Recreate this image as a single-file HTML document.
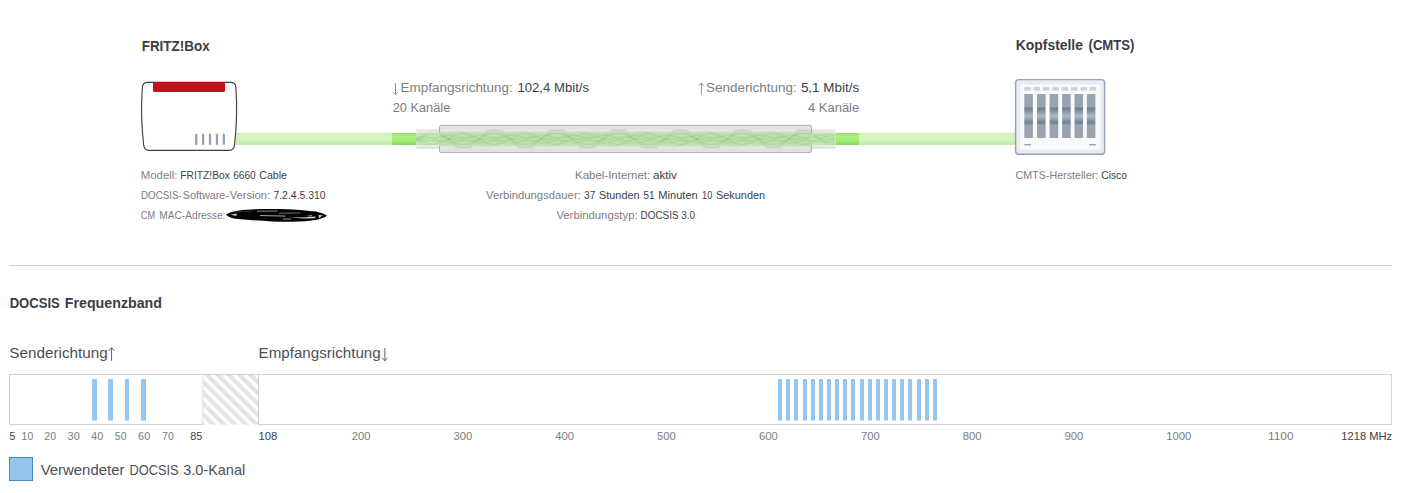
<!DOCTYPE html>
<html lang="de">
<head>
<meta charset="utf-8">
<title>FRITZ!Box Kabel-Informationen</title>
<style>
html,body{margin:0;padding:0;background:#ffffff;}
body{width:1405px;height:493px;overflow:hidden;font-family:"Liberation Sans",sans-serif;}
svg{display:block;position:absolute;left:0;top:0;}
svg text{font-family:"Liberation Sans",sans-serif;white-space:pre;}
</style>
</head>
<body>
<svg width="1405" height="493" viewBox="0 0 1405 493">
<defs>
<linearGradient id="gLight" x1="0" y1="0" x2="0" y2="1">
<stop offset="0" stop-color="#c9eeb4"/><stop offset="0.2" stop-color="#d5f7c0"/><stop offset="0.6" stop-color="#d2f4bc"/><stop offset="1" stop-color="#c3e7ae"/>
</linearGradient>
<linearGradient id="gBright" x1="0" y1="0" x2="0" y2="1">
<stop offset="0" stop-color="#93dd6c"/><stop offset="0.3" stop-color="#a9f57f"/><stop offset="0.6" stop-color="#a4ee7a"/><stop offset="1" stop-color="#8cd666"/>
</linearGradient>
<linearGradient id="gTube" x1="0" y1="0" x2="0" y2="1">
<stop offset="0" stop-color="#e4e4e4"/><stop offset="0.5" stop-color="#dcdcdc"/><stop offset="1" stop-color="#e2e2e2"/>
</linearGradient>
<linearGradient id="gSlot" x1="0" y1="0" x2="0" y2="1">
<stop offset="0" stop-color="#99a4b0"/><stop offset="0.285" stop-color="#99a4b0"/>
<stop offset="0.32" stop-color="#72808e"/><stop offset="0.36" stop-color="#7b8997"/><stop offset="0.50" stop-color="#adbbc9"/>
<stop offset="0.62" stop-color="#7f8d9b"/><stop offset="0.66" stop-color="#72808e"/><stop offset="0.70" stop-color="#99a4b0"/><stop offset="1" stop-color="#99a4b0"/>
</linearGradient>
<pattern id="hatch" width="7.66" height="7.66" patternUnits="userSpaceOnUse" patternTransform="translate(204.1 375) rotate(-45)">
<rect x="0" y="0" width="7.66" height="7.66" fill="#ffffff"/><rect x="0" y="0" width="4.25" height="7.66" fill="#e4e4e4"/>
</pattern>
<clipPath id="clipTube"><rect x="416" y="129.3" width="419.8" height="19.4"/></clipPath>
</defs>

<text x="141.7" y="50.8" font-size="15.12" fill="#3a3d46" font-weight="bold" textLength="68.0" lengthAdjust="spacingAndGlyphs">FRITZ!Box</text>
<text x="1015.7" y="50.3" font-size="15.12" fill="#3a3d46" font-weight="bold" textLength="67.3" lengthAdjust="spacingAndGlyphs">Kopfstelle</text>
<text x="1088.5" y="50.3" font-size="15.12" fill="#3a3d46" font-weight="bold" textLength="46.0" lengthAdjust="spacingAndGlyphs">(CMTS)</text>
<rect x="235.5" y="133" width="781" height="12" fill="url(#gLight)"/>
<rect x="392" y="133" width="25" height="12" rx="1.5" fill="url(#gBright)"/>
<rect x="834.5" y="133" width="24.5" height="12" rx="1.5" fill="url(#gBright)"/>
<rect x="416" y="129.3" width="419.8" height="19.4" rx="1" fill="#f3f3f4"/>
<rect x="416" y="129.3" width="419.8" height="1.2" fill="#e6e6e8"/>
<rect x="416" y="147.5" width="419.8" height="1.2" fill="#e6e6e8"/>
<rect x="417" y="131.0" width="22.5" height="0.7" fill="#c9c9cc" fill-opacity="0.5"/>
<rect x="812" y="131.0" width="23" height="0.7" fill="#c9c9cc" fill-opacity="0.5"/>
<rect x="417" y="132.2" width="22.5" height="0.7" fill="#c9c9cc" fill-opacity="0.35"/>
<rect x="812" y="132.2" width="23" height="0.7" fill="#c9c9cc" fill-opacity="0.35"/>
<rect x="417" y="145.9" width="22.5" height="0.7" fill="#c9c9cc" fill-opacity="0.35"/>
<rect x="812" y="145.9" width="23" height="0.7" fill="#c9c9cc" fill-opacity="0.35"/>
<rect x="417" y="147.1" width="22.5" height="0.7" fill="#c9c9cc" fill-opacity="0.5"/>
<rect x="812" y="147.1" width="23" height="0.7" fill="#c9c9cc" fill-opacity="0.5"/>
<rect x="439.5" y="125.3" width="372" height="27.3" rx="1.8" fill="url(#gTube)" stroke="#b0b0b0" stroke-width="1"/>
<rect x="440" y="129.3" width="371" height="19.4" fill="#ffffff" fill-opacity="0.22"/>
<rect x="416" y="133" width="419.8" height="12.2" fill="#c3e8b0"/>
<rect x="440" y="132.8" width="371" height="12.6" fill="#bce2a8"/>
<rect x="440" y="131.6" width="371" height="1.4" fill="#c6dcbc" fill-opacity="0.8"/>
<rect x="440" y="145.2" width="371" height="1.4" fill="#c6dcbc" fill-opacity="0.8"/>
<g fill="none" stroke-linecap="round" stroke-linejoin="round" clip-path="url(#clipTube)">
<path d="M416.0 139.49 L418.0 138.47 L420.0 137.29 L422.0 136.01 L424.0 134.70 L426.0 133.43 L428.0 132.28 L430.0 131.33 L432.0 130.65 L434.0 130.30 L436.0 130.75 L438.0 131.53 L440.0 132.62 L442.0 133.97 L444.0 135.53 L446.0 137.23 L448.0 139.00 L450.0 140.77 L452.0 142.47 L454.0 144.03 L456.0 145.38 L458.0 146.47 L460.0 147.25 L462.0 147.70 L464.0 147.79 L466.0 147.52 L468.0 146.90 L470.0 145.96 L472.0 144.73 L474.0 143.27 L476.0 141.63 L478.0 139.89 L480.0 138.11 L482.0 136.37 L484.0 134.73 L486.0 133.27 L488.0 132.04 L490.0 131.10 L492.0 130.48 L494.0 130.21 L496.0 130.30 L498.0 130.75 L500.0 131.53 L502.0 132.62 L504.0 133.97 L506.0 135.53 L508.0 137.23 L510.0 139.00 L512.0 140.77 L514.0 142.47 L516.0 144.03 L518.0 145.38 L520.0 146.47 L522.0 147.25 L524.0 147.70 L526.0 147.79 L528.0 147.52 L530.0 146.90 L532.0 145.96 L534.0 144.73 L536.0 143.27 L538.0 141.63 L540.0 139.89 L542.0 138.11 L544.0 136.37 L546.0 134.73 L548.0 133.27 L550.0 132.04 L552.0 131.10 L554.0 130.48 L556.0 130.21 L558.0 130.30 L560.0 130.75 L562.0 131.53 L564.0 132.62 L566.0 133.97 L568.0 135.53 L570.0 137.23 L572.0 139.00 L574.0 140.77 L576.0 142.47 L578.0 144.03 L580.0 145.38 L582.0 146.47 L584.0 147.25 L586.0 147.70 L588.0 147.79 L590.0 147.52 L592.0 146.90 L594.0 145.96 L596.0 144.73 L598.0 143.27 L600.0 141.63 L602.0 139.89 L604.0 138.11 L606.0 136.37 L608.0 134.73 L610.0 133.27 L612.0 132.04 L614.0 131.10 L616.0 130.48 L618.0 130.21 L620.0 130.30 L622.0 130.75 L624.0 131.53 L626.0 132.62 L628.0 133.97 L630.0 135.53 L632.0 137.23 L634.0 139.00 L636.0 140.77 L638.0 142.47 L640.0 144.03 L642.0 145.38 L644.0 146.47 L646.0 147.25 L648.0 147.70 L650.0 147.79 L652.0 147.52 L654.0 146.90 L656.0 145.96 L658.0 144.73 L660.0 143.27 L662.0 141.63 L664.0 139.89 L666.0 138.11 L668.0 136.37 L670.0 134.73 L672.0 133.27 L674.0 132.04 L676.0 131.10 L678.0 130.48 L680.0 130.21 L682.0 130.30 L684.0 130.75 L686.0 131.53 L688.0 132.62 L690.0 133.97 L692.0 135.53 L694.0 137.23 L696.0 139.00 L698.0 140.77 L700.0 142.47 L702.0 144.03 L704.0 145.38 L706.0 146.47 L708.0 147.25 L710.0 147.70 L712.0 147.79 L714.0 147.52 L716.0 146.90 L718.0 145.96 L720.0 144.73 L722.0 143.27 L724.0 141.63 L726.0 139.89 L728.0 138.11 L730.0 136.37 L732.0 134.73 L734.0 133.27 L736.0 132.04 L738.0 131.10 L740.0 130.48 L742.0 130.21 L744.0 130.30 L746.0 130.75 L748.0 131.53 L750.0 132.62 L752.0 133.97 L754.0 135.53 L756.0 137.23 L758.0 139.00 L760.0 140.77 L762.0 142.47 L764.0 144.03 L766.0 145.38 L768.0 146.47 L770.0 147.25 L772.0 147.70 L774.0 147.79 L776.0 147.52 L778.0 146.90 L780.0 145.96 L782.0 144.73 L784.0 143.27 L786.0 141.63 L788.0 139.89 L790.0 138.11 L792.0 136.37 L794.0 134.73 L796.0 133.27 L798.0 132.04 L800.0 131.10 L802.0 130.48 L804.0 130.21 L806.0 130.30 L808.0 130.75 L810.0 131.53 L812.0 132.62 L814.0 133.97 L816.0 135.53 L818.0 137.24 L820.0 139.00 L822.0 140.59 L824.0 141.93 L826.0 143.00 L828.0 143.75 L830.0 144.19 L832.0 144.32 L834.0 144.18" stroke="#707a74" stroke-opacity="0.085" stroke-width="1.7"/>
<path d="M416.0 140.89 L418.0 141.79 L420.0 142.68 L422.0 143.51 L424.0 144.22 L426.0 144.75 L428.0 145.06 L430.0 145.09 L432.0 144.83 L434.0 144.26 L436.0 143.16 L438.0 141.89 L440.0 140.51 L442.0 139.06 L444.0 137.61 L446.0 136.21 L448.0 134.93 L450.0 133.82 L452.0 132.92 L454.0 132.27 L456.0 131.89 L458.0 131.81 L460.0 132.02 L462.0 132.51 L464.0 133.27 L466.0 134.27 L468.0 135.46 L470.0 136.79 L472.0 138.21 L474.0 139.67 L476.0 141.10 L478.0 142.44 L480.0 143.65 L482.0 144.66 L484.0 145.44 L486.0 145.96 L488.0 146.19 L490.0 146.13 L492.0 145.77 L494.0 145.14 L496.0 144.26 L498.0 143.16 L500.0 141.89 L502.0 140.51 L504.0 139.06 L506.0 137.61 L508.0 136.21 L510.0 134.93 L512.0 133.82 L514.0 132.92 L516.0 132.27 L518.0 131.89 L520.0 131.81 L522.0 132.02 L524.0 132.51 L526.0 133.27 L528.0 134.27 L530.0 135.46 L532.0 136.79 L534.0 138.21 L536.0 139.67 L538.0 141.10 L540.0 142.44 L542.0 143.65 L544.0 144.66 L546.0 145.44 L548.0 145.96 L550.0 146.19 L552.0 146.13 L554.0 145.77 L556.0 145.14 L558.0 144.26 L560.0 143.16 L562.0 141.89 L564.0 140.51 L566.0 139.06 L568.0 137.61 L570.0 136.21 L572.0 134.93 L574.0 133.82 L576.0 132.92 L578.0 132.27 L580.0 131.89 L582.0 131.81 L584.0 132.02 L586.0 132.51 L588.0 133.27 L590.0 134.27 L592.0 135.46 L594.0 136.79 L596.0 138.21 L598.0 139.67 L600.0 141.10 L602.0 142.44 L604.0 143.65 L606.0 144.66 L608.0 145.44 L610.0 145.96 L612.0 146.19 L614.0 146.13 L616.0 145.77 L618.0 145.14 L620.0 144.26 L622.0 143.16 L624.0 141.89 L626.0 140.51 L628.0 139.06 L630.0 137.61 L632.0 136.21 L634.0 134.93 L636.0 133.82 L638.0 132.92 L640.0 132.27 L642.0 131.89 L644.0 131.81 L646.0 132.02 L648.0 132.51 L650.0 133.27 L652.0 134.27 L654.0 135.46 L656.0 136.79 L658.0 138.21 L660.0 139.67 L662.0 141.10 L664.0 142.44 L666.0 143.65 L668.0 144.66 L670.0 145.44 L672.0 145.96 L674.0 146.19 L676.0 146.13 L678.0 145.77 L680.0 145.14 L682.0 144.26 L684.0 143.16 L686.0 141.89 L688.0 140.51 L690.0 139.06 L692.0 137.61 L694.0 136.21 L696.0 134.93 L698.0 133.82 L700.0 132.92 L702.0 132.27 L704.0 131.89 L706.0 131.81 L708.0 132.02 L710.0 132.51 L712.0 133.27 L714.0 134.27 L716.0 135.46 L718.0 136.79 L720.0 138.21 L722.0 139.67 L724.0 141.10 L726.0 142.44 L728.0 143.65 L730.0 144.66 L732.0 145.44 L734.0 145.96 L736.0 146.19 L738.0 146.13 L740.0 145.77 L742.0 145.14 L744.0 144.26 L746.0 143.16 L748.0 141.89 L750.0 140.51 L752.0 139.06 L754.0 137.61 L756.0 136.21 L758.0 134.93 L760.0 133.82 L762.0 132.92 L764.0 132.27 L766.0 131.89 L768.0 131.81 L770.0 132.02 L772.0 132.51 L774.0 133.27 L776.0 134.27 L778.0 135.46 L780.0 136.79 L782.0 138.21 L784.0 139.67 L786.0 141.10 L788.0 142.44 L790.0 143.65 L792.0 144.66 L794.0 145.44 L796.0 145.96 L798.0 146.19 L800.0 146.13 L802.0 145.77 L804.0 145.14 L806.0 144.26 L808.0 143.16 L810.0 141.89 L812.0 140.51 L814.0 139.06 L816.0 137.61 L818.0 136.23 L820.0 135.16 L822.0 134.37 L824.0 133.86 L826.0 133.65 L828.0 133.70 L830.0 134.00 L832.0 134.50 L834.0 135.14" stroke="#707a74" stroke-opacity="0.06" stroke-width="1.4"/>
<path d="M416.0 139.31 L418.0 138.66 L420.0 137.91 L422.0 137.10 L424.0 136.26 L426.0 135.46 L428.0 134.73 L430.0 134.12 L432.0 133.69 L434.0 133.46 L436.0 133.75 L438.0 134.25 L440.0 134.94 L442.0 135.80 L444.0 136.79 L446.0 137.87 L448.0 139.00 L450.0 140.13 L452.0 141.21 L454.0 142.20 L456.0 143.06 L458.0 143.75 L460.0 144.25 L462.0 144.54 L464.0 144.59 L466.0 144.42 L468.0 144.03 L470.0 143.43 L472.0 142.65 L474.0 141.72 L476.0 140.68 L478.0 139.57 L480.0 138.43 L482.0 137.32 L484.0 136.28 L486.0 135.35 L488.0 134.57 L490.0 133.97 L492.0 133.58 L494.0 133.41 L496.0 133.46 L498.0 133.75 L500.0 134.25 L502.0 134.94 L504.0 135.80 L506.0 136.79 L508.0 137.87 L510.0 139.00 L512.0 140.13 L514.0 141.21 L516.0 142.20 L518.0 143.06 L520.0 143.75 L522.0 144.25 L524.0 144.54 L526.0 144.59 L528.0 144.42 L530.0 144.03 L532.0 143.43 L534.0 142.65 L536.0 141.72 L538.0 140.68 L540.0 139.57 L542.0 138.43 L544.0 137.32 L546.0 136.28 L548.0 135.35 L550.0 134.57 L552.0 133.97 L554.0 133.58 L556.0 133.41 L558.0 133.46 L560.0 133.75 L562.0 134.25 L564.0 134.94 L566.0 135.80 L568.0 136.79 L570.0 137.87 L572.0 139.00 L574.0 140.13 L576.0 141.21 L578.0 142.20 L580.0 143.06 L582.0 143.75 L584.0 144.25 L586.0 144.54 L588.0 144.59 L590.0 144.42 L592.0 144.03 L594.0 143.43 L596.0 142.65 L598.0 141.72 L600.0 140.68 L602.0 139.57 L604.0 138.43 L606.0 137.32 L608.0 136.28 L610.0 135.35 L612.0 134.57 L614.0 133.97 L616.0 133.58 L618.0 133.41 L620.0 133.46 L622.0 133.75 L624.0 134.25 L626.0 134.94 L628.0 135.80 L630.0 136.79 L632.0 137.87 L634.0 139.00 L636.0 140.13 L638.0 141.21 L640.0 142.20 L642.0 143.06 L644.0 143.75 L646.0 144.25 L648.0 144.54 L650.0 144.59 L652.0 144.42 L654.0 144.03 L656.0 143.43 L658.0 142.65 L660.0 141.72 L662.0 140.68 L664.0 139.57 L666.0 138.43 L668.0 137.32 L670.0 136.28 L672.0 135.35 L674.0 134.57 L676.0 133.97 L678.0 133.58 L680.0 133.41 L682.0 133.46 L684.0 133.75 L686.0 134.25 L688.0 134.94 L690.0 135.80 L692.0 136.79 L694.0 137.87 L696.0 139.00 L698.0 140.13 L700.0 141.21 L702.0 142.20 L704.0 143.06 L706.0 143.75 L708.0 144.25 L710.0 144.54 L712.0 144.59 L714.0 144.42 L716.0 144.03 L718.0 143.43 L720.0 142.65 L722.0 141.72 L724.0 140.68 L726.0 139.57 L728.0 138.43 L730.0 137.32 L732.0 136.28 L734.0 135.35 L736.0 134.57 L738.0 133.97 L740.0 133.58 L742.0 133.41 L744.0 133.46 L746.0 133.75 L748.0 134.25 L750.0 134.94 L752.0 135.80 L754.0 136.79 L756.0 137.87 L758.0 139.00 L760.0 140.13 L762.0 141.21 L764.0 142.20 L766.0 143.06 L768.0 143.75 L770.0 144.25 L772.0 144.54 L774.0 144.59 L776.0 144.42 L778.0 144.03 L780.0 143.43 L782.0 142.65 L784.0 141.72 L786.0 140.68 L788.0 139.57 L790.0 138.43 L792.0 137.32 L794.0 136.28 L796.0 135.35 L798.0 134.57 L800.0 133.97 L802.0 133.58 L804.0 133.41 L806.0 133.46 L808.0 133.75 L810.0 134.25 L812.0 134.94 L814.0 135.80 L816.0 136.79 L818.0 137.88 L820.0 139.00 L822.0 140.01 L824.0 140.87 L826.0 141.54 L828.0 142.02 L830.0 142.30 L832.0 142.39 L834.0 142.29" stroke="#5f8258" stroke-opacity="0.11" stroke-width="1.3"/>
<path d="M416.0 138.69 L418.0 139.34 L420.0 140.09 L422.0 140.90 L424.0 141.74 L426.0 142.54 L428.0 143.27 L430.0 143.88 L432.0 144.31 L434.0 144.54 L436.0 144.25 L438.0 143.75 L440.0 143.06 L442.0 142.20 L444.0 141.21 L446.0 140.13 L448.0 139.00 L450.0 137.87 L452.0 136.79 L454.0 135.80 L456.0 134.94 L458.0 134.25 L460.0 133.75 L462.0 133.46 L464.0 133.41 L466.0 133.58 L468.0 133.97 L470.0 134.57 L472.0 135.35 L474.0 136.28 L476.0 137.32 L478.0 138.43 L480.0 139.57 L482.0 140.68 L484.0 141.72 L486.0 142.65 L488.0 143.43 L490.0 144.03 L492.0 144.42 L494.0 144.59 L496.0 144.54 L498.0 144.25 L500.0 143.75 L502.0 143.06 L504.0 142.20 L506.0 141.21 L508.0 140.13 L510.0 139.00 L512.0 137.87 L514.0 136.79 L516.0 135.80 L518.0 134.94 L520.0 134.25 L522.0 133.75 L524.0 133.46 L526.0 133.41 L528.0 133.58 L530.0 133.97 L532.0 134.57 L534.0 135.35 L536.0 136.28 L538.0 137.32 L540.0 138.43 L542.0 139.57 L544.0 140.68 L546.0 141.72 L548.0 142.65 L550.0 143.43 L552.0 144.03 L554.0 144.42 L556.0 144.59 L558.0 144.54 L560.0 144.25 L562.0 143.75 L564.0 143.06 L566.0 142.20 L568.0 141.21 L570.0 140.13 L572.0 139.00 L574.0 137.87 L576.0 136.79 L578.0 135.80 L580.0 134.94 L582.0 134.25 L584.0 133.75 L586.0 133.46 L588.0 133.41 L590.0 133.58 L592.0 133.97 L594.0 134.57 L596.0 135.35 L598.0 136.28 L600.0 137.32 L602.0 138.43 L604.0 139.57 L606.0 140.68 L608.0 141.72 L610.0 142.65 L612.0 143.43 L614.0 144.03 L616.0 144.42 L618.0 144.59 L620.0 144.54 L622.0 144.25 L624.0 143.75 L626.0 143.06 L628.0 142.20 L630.0 141.21 L632.0 140.13 L634.0 139.00 L636.0 137.87 L638.0 136.79 L640.0 135.80 L642.0 134.94 L644.0 134.25 L646.0 133.75 L648.0 133.46 L650.0 133.41 L652.0 133.58 L654.0 133.97 L656.0 134.57 L658.0 135.35 L660.0 136.28 L662.0 137.32 L664.0 138.43 L666.0 139.57 L668.0 140.68 L670.0 141.72 L672.0 142.65 L674.0 143.43 L676.0 144.03 L678.0 144.42 L680.0 144.59 L682.0 144.54 L684.0 144.25 L686.0 143.75 L688.0 143.06 L690.0 142.20 L692.0 141.21 L694.0 140.13 L696.0 139.00 L698.0 137.87 L700.0 136.79 L702.0 135.80 L704.0 134.94 L706.0 134.25 L708.0 133.75 L710.0 133.46 L712.0 133.41 L714.0 133.58 L716.0 133.97 L718.0 134.57 L720.0 135.35 L722.0 136.28 L724.0 137.32 L726.0 138.43 L728.0 139.57 L730.0 140.68 L732.0 141.72 L734.0 142.65 L736.0 143.43 L738.0 144.03 L740.0 144.42 L742.0 144.59 L744.0 144.54 L746.0 144.25 L748.0 143.75 L750.0 143.06 L752.0 142.20 L754.0 141.21 L756.0 140.13 L758.0 139.00 L760.0 137.87 L762.0 136.79 L764.0 135.80 L766.0 134.94 L768.0 134.25 L770.0 133.75 L772.0 133.46 L774.0 133.41 L776.0 133.58 L778.0 133.97 L780.0 134.57 L782.0 135.35 L784.0 136.28 L786.0 137.32 L788.0 138.43 L790.0 139.57 L792.0 140.68 L794.0 141.72 L796.0 142.65 L798.0 143.43 L800.0 144.03 L802.0 144.42 L804.0 144.59 L806.0 144.54 L808.0 144.25 L810.0 143.75 L812.0 143.06 L814.0 142.20 L816.0 141.21 L818.0 140.12 L820.0 139.00 L822.0 137.99 L824.0 137.13 L826.0 136.46 L828.0 135.98 L830.0 135.70 L832.0 135.61 L834.0 135.71" stroke="#5f8258" stroke-opacity="0.11" stroke-width="1.3"/>
<path d="M416.0 137.09 L418.0 136.85 L420.0 136.68 L422.0 136.62 L424.0 136.68 L426.0 136.88 L428.0 137.21 L430.0 137.67 L432.0 138.25 L434.0 138.93 L436.0 139.66 L438.0 140.36 L440.0 141.00 L442.0 141.56 L444.0 142.02 L446.0 142.35 L448.0 142.55 L450.0 142.60 L452.0 142.50 L454.0 142.26 L456.0 141.89 L458.0 141.40 L460.0 140.81 L462.0 140.14 L464.0 139.43 L466.0 138.70 L468.0 137.99 L470.0 137.31 L472.0 136.71 L474.0 136.20 L476.0 135.80 L478.0 135.53 L480.0 135.41 L482.0 135.43 L484.0 135.60 L486.0 135.91 L488.0 136.34 L490.0 136.89 L492.0 137.52 L494.0 138.21 L496.0 138.93 L498.0 139.66 L500.0 140.36 L502.0 141.00 L504.0 141.56 L506.0 142.02 L508.0 142.35 L510.0 142.55 L512.0 142.60 L514.0 142.50 L516.0 142.26 L518.0 141.89 L520.0 141.40 L522.0 140.81 L524.0 140.14 L526.0 139.43 L528.0 138.70 L530.0 137.99 L532.0 137.31 L534.0 136.71 L536.0 136.20 L538.0 135.80 L540.0 135.53 L542.0 135.41 L544.0 135.43 L546.0 135.60 L548.0 135.91 L550.0 136.34 L552.0 136.89 L554.0 137.52 L556.0 138.21 L558.0 138.93 L560.0 139.66 L562.0 140.36 L564.0 141.00 L566.0 141.56 L568.0 142.02 L570.0 142.35 L572.0 142.55 L574.0 142.60 L576.0 142.50 L578.0 142.26 L580.0 141.89 L582.0 141.40 L584.0 140.81 L586.0 140.14 L588.0 139.43 L590.0 138.70 L592.0 137.99 L594.0 137.31 L596.0 136.71 L598.0 136.20 L600.0 135.80 L602.0 135.53 L604.0 135.41 L606.0 135.43 L608.0 135.60 L610.0 135.91 L612.0 136.34 L614.0 136.89 L616.0 137.52 L618.0 138.21 L620.0 138.93 L622.0 139.66 L624.0 140.36 L626.0 141.00 L628.0 141.56 L630.0 142.02 L632.0 142.35 L634.0 142.55 L636.0 142.60 L638.0 142.50 L640.0 142.26 L642.0 141.89 L644.0 141.40 L646.0 140.81 L648.0 140.14 L650.0 139.43 L652.0 138.70 L654.0 137.99 L656.0 137.31 L658.0 136.71 L660.0 136.20 L662.0 135.80 L664.0 135.53 L666.0 135.41 L668.0 135.43 L670.0 135.60 L672.0 135.91 L674.0 136.34 L676.0 136.89 L678.0 137.52 L680.0 138.21 L682.0 138.93 L684.0 139.66 L686.0 140.36 L688.0 141.00 L690.0 141.56 L692.0 142.02 L694.0 142.35 L696.0 142.55 L698.0 142.60 L700.0 142.50 L702.0 142.26 L704.0 141.89 L706.0 141.40 L708.0 140.81 L710.0 140.14 L712.0 139.43 L714.0 138.70 L716.0 137.99 L718.0 137.31 L720.0 136.71 L722.0 136.20 L724.0 135.80 L726.0 135.53 L728.0 135.41 L730.0 135.43 L732.0 135.60 L734.0 135.91 L736.0 136.34 L738.0 136.89 L740.0 137.52 L742.0 138.21 L744.0 138.93 L746.0 139.66 L748.0 140.36 L750.0 141.00 L752.0 141.56 L754.0 142.02 L756.0 142.35 L758.0 142.55 L760.0 142.60 L762.0 142.50 L764.0 142.26 L766.0 141.89 L768.0 141.40 L770.0 140.81 L772.0 140.14 L774.0 139.43 L776.0 138.70 L778.0 137.99 L780.0 137.31 L782.0 136.71 L784.0 136.20 L786.0 135.80 L788.0 135.53 L790.0 135.41 L792.0 135.43 L794.0 135.60 L796.0 135.91 L798.0 136.34 L800.0 136.89 L802.0 137.52 L804.0 138.21 L806.0 138.93 L808.0 139.66 L810.0 140.36 L812.0 141.00 L814.0 141.56 L816.0 142.02 L818.0 142.34 L820.0 142.35 L822.0 142.22 L824.0 141.96 L826.0 141.59 L828.0 141.15 L830.0 140.67 L832.0 140.16 L834.0 139.68" stroke="#5f8258" stroke-opacity="0.1" stroke-width="1.2"/>
<path d="M416.0 140.91 L418.0 141.15 L420.0 141.32 L422.0 141.38 L424.0 141.32 L426.0 141.12 L428.0 140.79 L430.0 140.33 L432.0 139.75 L434.0 139.07 L436.0 138.34 L438.0 137.64 L440.0 137.00 L442.0 136.44 L444.0 135.98 L446.0 135.65 L448.0 135.45 L450.0 135.40 L452.0 135.50 L454.0 135.74 L456.0 136.11 L458.0 136.60 L460.0 137.19 L462.0 137.86 L464.0 138.57 L466.0 139.30 L468.0 140.01 L470.0 140.69 L472.0 141.29 L474.0 141.80 L476.0 142.20 L478.0 142.47 L480.0 142.59 L482.0 142.57 L484.0 142.40 L486.0 142.09 L488.0 141.66 L490.0 141.11 L492.0 140.48 L494.0 139.79 L496.0 139.07 L498.0 138.34 L500.0 137.64 L502.0 137.00 L504.0 136.44 L506.0 135.98 L508.0 135.65 L510.0 135.45 L512.0 135.40 L514.0 135.50 L516.0 135.74 L518.0 136.11 L520.0 136.60 L522.0 137.19 L524.0 137.86 L526.0 138.57 L528.0 139.30 L530.0 140.01 L532.0 140.69 L534.0 141.29 L536.0 141.80 L538.0 142.20 L540.0 142.47 L542.0 142.59 L544.0 142.57 L546.0 142.40 L548.0 142.09 L550.0 141.66 L552.0 141.11 L554.0 140.48 L556.0 139.79 L558.0 139.07 L560.0 138.34 L562.0 137.64 L564.0 137.00 L566.0 136.44 L568.0 135.98 L570.0 135.65 L572.0 135.45 L574.0 135.40 L576.0 135.50 L578.0 135.74 L580.0 136.11 L582.0 136.60 L584.0 137.19 L586.0 137.86 L588.0 138.57 L590.0 139.30 L592.0 140.01 L594.0 140.69 L596.0 141.29 L598.0 141.80 L600.0 142.20 L602.0 142.47 L604.0 142.59 L606.0 142.57 L608.0 142.40 L610.0 142.09 L612.0 141.66 L614.0 141.11 L616.0 140.48 L618.0 139.79 L620.0 139.07 L622.0 138.34 L624.0 137.64 L626.0 137.00 L628.0 136.44 L630.0 135.98 L632.0 135.65 L634.0 135.45 L636.0 135.40 L638.0 135.50 L640.0 135.74 L642.0 136.11 L644.0 136.60 L646.0 137.19 L648.0 137.86 L650.0 138.57 L652.0 139.30 L654.0 140.01 L656.0 140.69 L658.0 141.29 L660.0 141.80 L662.0 142.20 L664.0 142.47 L666.0 142.59 L668.0 142.57 L670.0 142.40 L672.0 142.09 L674.0 141.66 L676.0 141.11 L678.0 140.48 L680.0 139.79 L682.0 139.07 L684.0 138.34 L686.0 137.64 L688.0 137.00 L690.0 136.44 L692.0 135.98 L694.0 135.65 L696.0 135.45 L698.0 135.40 L700.0 135.50 L702.0 135.74 L704.0 136.11 L706.0 136.60 L708.0 137.19 L710.0 137.86 L712.0 138.57 L714.0 139.30 L716.0 140.01 L718.0 140.69 L720.0 141.29 L722.0 141.80 L724.0 142.20 L726.0 142.47 L728.0 142.59 L730.0 142.57 L732.0 142.40 L734.0 142.09 L736.0 141.66 L738.0 141.11 L740.0 140.48 L742.0 139.79 L744.0 139.07 L746.0 138.34 L748.0 137.64 L750.0 137.00 L752.0 136.44 L754.0 135.98 L756.0 135.65 L758.0 135.45 L760.0 135.40 L762.0 135.50 L764.0 135.74 L766.0 136.11 L768.0 136.60 L770.0 137.19 L772.0 137.86 L774.0 138.57 L776.0 139.30 L778.0 140.01 L780.0 140.69 L782.0 141.29 L784.0 141.80 L786.0 142.20 L788.0 142.47 L790.0 142.59 L792.0 142.57 L794.0 142.40 L796.0 142.09 L798.0 141.66 L800.0 141.11 L802.0 140.48 L804.0 139.79 L806.0 139.07 L808.0 138.34 L810.0 137.64 L812.0 137.00 L814.0 136.44 L816.0 135.98 L818.0 135.66 L820.0 135.65 L822.0 135.78 L824.0 136.04 L826.0 136.41 L828.0 136.85 L830.0 137.33 L832.0 137.84 L834.0 138.32" stroke="#5f8258" stroke-opacity="0.1" stroke-width="1.2"/>
<path d="M416.0 138.34 L418.0 138.49 L420.0 138.69 L422.0 138.95 L424.0 139.25 L426.0 139.58 L428.0 139.92 L430.0 140.26 L432.0 140.58 L434.0 140.85 L436.0 140.97 L438.0 141.00 L440.0 140.95 L442.0 140.83 L444.0 140.62 L446.0 140.35 L448.0 140.03 L450.0 139.66 L452.0 139.27 L454.0 138.87 L456.0 138.47 L458.0 138.09 L460.0 137.75 L462.0 137.46 L464.0 137.24 L466.0 137.08 L468.0 137.01 L470.0 137.01 L472.0 137.10 L474.0 137.27 L476.0 137.50 L478.0 137.80 L480.0 138.15 L482.0 138.53 L484.0 138.93 L486.0 139.33 L488.0 139.72 L490.0 140.08 L492.0 140.40 L494.0 140.66 L496.0 140.85 L498.0 140.97 L500.0 141.00 L502.0 140.95 L504.0 140.83 L506.0 140.62 L508.0 140.35 L510.0 140.03 L512.0 139.66 L514.0 139.27 L516.0 138.87 L518.0 138.47 L520.0 138.09 L522.0 137.75 L524.0 137.46 L526.0 137.24 L528.0 137.08 L530.0 137.01 L532.0 137.01 L534.0 137.10 L536.0 137.27 L538.0 137.50 L540.0 137.80 L542.0 138.15 L544.0 138.53 L546.0 138.93 L548.0 139.33 L550.0 139.72 L552.0 140.08 L554.0 140.40 L556.0 140.66 L558.0 140.85 L560.0 140.97 L562.0 141.00 L564.0 140.95 L566.0 140.83 L568.0 140.62 L570.0 140.35 L572.0 140.03 L574.0 139.66 L576.0 139.27 L578.0 138.87 L580.0 138.47 L582.0 138.09 L584.0 137.75 L586.0 137.46 L588.0 137.24 L590.0 137.08 L592.0 137.01 L594.0 137.01 L596.0 137.10 L598.0 137.27 L600.0 137.50 L602.0 137.80 L604.0 138.15 L606.0 138.53 L608.0 138.93 L610.0 139.33 L612.0 139.72 L614.0 140.08 L616.0 140.40 L618.0 140.66 L620.0 140.85 L622.0 140.97 L624.0 141.00 L626.0 140.95 L628.0 140.83 L630.0 140.62 L632.0 140.35 L634.0 140.03 L636.0 139.66 L638.0 139.27 L640.0 138.87 L642.0 138.47 L644.0 138.09 L646.0 137.75 L648.0 137.46 L650.0 137.24 L652.0 137.08 L654.0 137.01 L656.0 137.01 L658.0 137.10 L660.0 137.27 L662.0 137.50 L664.0 137.80 L666.0 138.15 L668.0 138.53 L670.0 138.93 L672.0 139.33 L674.0 139.72 L676.0 140.08 L678.0 140.40 L680.0 140.66 L682.0 140.85 L684.0 140.97 L686.0 141.00 L688.0 140.95 L690.0 140.83 L692.0 140.62 L694.0 140.35 L696.0 140.03 L698.0 139.66 L700.0 139.27 L702.0 138.87 L704.0 138.47 L706.0 138.09 L708.0 137.75 L710.0 137.46 L712.0 137.24 L714.0 137.08 L716.0 137.01 L718.0 137.01 L720.0 137.10 L722.0 137.27 L724.0 137.50 L726.0 137.80 L728.0 138.15 L730.0 138.53 L732.0 138.93 L734.0 139.33 L736.0 139.72 L738.0 140.08 L740.0 140.40 L742.0 140.66 L744.0 140.85 L746.0 140.97 L748.0 141.00 L750.0 140.95 L752.0 140.83 L754.0 140.62 L756.0 140.35 L758.0 140.03 L760.0 139.66 L762.0 139.27 L764.0 138.87 L766.0 138.47 L768.0 138.09 L770.0 137.75 L772.0 137.46 L774.0 137.24 L776.0 137.08 L778.0 137.01 L780.0 137.01 L782.0 137.10 L784.0 137.27 L786.0 137.50 L788.0 137.80 L790.0 138.15 L792.0 138.53 L794.0 138.93 L796.0 139.33 L798.0 139.72 L800.0 140.08 L802.0 140.40 L804.0 140.66 L806.0 140.85 L808.0 140.97 L810.0 141.00 L812.0 140.95 L814.0 140.83 L816.0 140.62 L818.0 140.35 L820.0 139.97 L822.0 139.60 L824.0 139.23 L826.0 138.89 L828.0 138.60 L830.0 138.37 L832.0 138.19 L834.0 138.08" stroke="#5f8258" stroke-opacity="0.08" stroke-width="1.1"/>
<path d="M416.0 139.66 L418.0 139.51 L420.0 139.31 L422.0 139.05 L424.0 138.75 L426.0 138.42 L428.0 138.08 L430.0 137.74 L432.0 137.42 L434.0 137.15 L436.0 137.03 L438.0 137.00 L440.0 137.05 L442.0 137.17 L444.0 137.38 L446.0 137.65 L448.0 137.97 L450.0 138.34 L452.0 138.73 L454.0 139.13 L456.0 139.53 L458.0 139.91 L460.0 140.25 L462.0 140.54 L464.0 140.76 L466.0 140.92 L468.0 140.99 L470.0 140.99 L472.0 140.90 L474.0 140.73 L476.0 140.50 L478.0 140.20 L480.0 139.85 L482.0 139.47 L484.0 139.07 L486.0 138.67 L488.0 138.28 L490.0 137.92 L492.0 137.60 L494.0 137.34 L496.0 137.15 L498.0 137.03 L500.0 137.00 L502.0 137.05 L504.0 137.17 L506.0 137.38 L508.0 137.65 L510.0 137.97 L512.0 138.34 L514.0 138.73 L516.0 139.13 L518.0 139.53 L520.0 139.91 L522.0 140.25 L524.0 140.54 L526.0 140.76 L528.0 140.92 L530.0 140.99 L532.0 140.99 L534.0 140.90 L536.0 140.73 L538.0 140.50 L540.0 140.20 L542.0 139.85 L544.0 139.47 L546.0 139.07 L548.0 138.67 L550.0 138.28 L552.0 137.92 L554.0 137.60 L556.0 137.34 L558.0 137.15 L560.0 137.03 L562.0 137.00 L564.0 137.05 L566.0 137.17 L568.0 137.38 L570.0 137.65 L572.0 137.97 L574.0 138.34 L576.0 138.73 L578.0 139.13 L580.0 139.53 L582.0 139.91 L584.0 140.25 L586.0 140.54 L588.0 140.76 L590.0 140.92 L592.0 140.99 L594.0 140.99 L596.0 140.90 L598.0 140.73 L600.0 140.50 L602.0 140.20 L604.0 139.85 L606.0 139.47 L608.0 139.07 L610.0 138.67 L612.0 138.28 L614.0 137.92 L616.0 137.60 L618.0 137.34 L620.0 137.15 L622.0 137.03 L624.0 137.00 L626.0 137.05 L628.0 137.17 L630.0 137.38 L632.0 137.65 L634.0 137.97 L636.0 138.34 L638.0 138.73 L640.0 139.13 L642.0 139.53 L644.0 139.91 L646.0 140.25 L648.0 140.54 L650.0 140.76 L652.0 140.92 L654.0 140.99 L656.0 140.99 L658.0 140.90 L660.0 140.73 L662.0 140.50 L664.0 140.20 L666.0 139.85 L668.0 139.47 L670.0 139.07 L672.0 138.67 L674.0 138.28 L676.0 137.92 L678.0 137.60 L680.0 137.34 L682.0 137.15 L684.0 137.03 L686.0 137.00 L688.0 137.05 L690.0 137.17 L692.0 137.38 L694.0 137.65 L696.0 137.97 L698.0 138.34 L700.0 138.73 L702.0 139.13 L704.0 139.53 L706.0 139.91 L708.0 140.25 L710.0 140.54 L712.0 140.76 L714.0 140.92 L716.0 140.99 L718.0 140.99 L720.0 140.90 L722.0 140.73 L724.0 140.50 L726.0 140.20 L728.0 139.85 L730.0 139.47 L732.0 139.07 L734.0 138.67 L736.0 138.28 L738.0 137.92 L740.0 137.60 L742.0 137.34 L744.0 137.15 L746.0 137.03 L748.0 137.00 L750.0 137.05 L752.0 137.17 L754.0 137.38 L756.0 137.65 L758.0 137.97 L760.0 138.34 L762.0 138.73 L764.0 139.13 L766.0 139.53 L768.0 139.91 L770.0 140.25 L772.0 140.54 L774.0 140.76 L776.0 140.92 L778.0 140.99 L780.0 140.99 L782.0 140.90 L784.0 140.73 L786.0 140.50 L788.0 140.20 L790.0 139.85 L792.0 139.47 L794.0 139.07 L796.0 138.67 L798.0 138.28 L800.0 137.92 L802.0 137.60 L804.0 137.34 L806.0 137.15 L808.0 137.03 L810.0 137.00 L812.0 137.05 L814.0 137.17 L816.0 137.38 L818.0 137.65 L820.0 138.03 L822.0 138.40 L824.0 138.77 L826.0 139.11 L828.0 139.40 L830.0 139.63 L832.0 139.81 L834.0 139.92" stroke="#5f8258" stroke-opacity="0.08" stroke-width="1.1"/>
<path d="M455.5 147.6 H471.5" stroke="#8b8f8d" stroke-opacity="0.2" stroke-width="1.6"/>
<path d="M486.5 130.4 H502.5" stroke="#8b8f8d" stroke-opacity="0.2" stroke-width="1.6"/>
<path d="M517.5 147.6 H533.5" stroke="#8b8f8d" stroke-opacity="0.2" stroke-width="1.6"/>
<path d="M548.5 130.4 H564.5" stroke="#8b8f8d" stroke-opacity="0.2" stroke-width="1.6"/>
<path d="M579.5 147.6 H595.5" stroke="#8b8f8d" stroke-opacity="0.2" stroke-width="1.6"/>
<path d="M610.5 130.4 H626.5" stroke="#8b8f8d" stroke-opacity="0.2" stroke-width="1.6"/>
<path d="M641.5 147.6 H657.5" stroke="#8b8f8d" stroke-opacity="0.2" stroke-width="1.6"/>
<path d="M672.5 130.4 H688.5" stroke="#8b8f8d" stroke-opacity="0.2" stroke-width="1.6"/>
<path d="M703.5 147.6 H719.5" stroke="#8b8f8d" stroke-opacity="0.2" stroke-width="1.6"/>
<path d="M734.5 130.4 H750.5" stroke="#8b8f8d" stroke-opacity="0.2" stroke-width="1.6"/>
<path d="M765.5 147.6 H781.5" stroke="#8b8f8d" stroke-opacity="0.2" stroke-width="1.6"/>
<path d="M796.5 130.4 H812.5" stroke="#8b8f8d" stroke-opacity="0.2" stroke-width="1.6"/>
</g>
<path d="M147.4 82.4 H230.8 Q235.8 82.4 235.9 88 Q237.9 116.5 234.5 145 Q234.0 150.3 229.3 150.3 H148.9 Q144.2 150.3 143.7 145 Q140.3 116.5 142.3 88 Q142.4 82.4 147.4 82.4 Z" fill="#ffffff" stroke="#3f3f3f" stroke-width="1.15"/>
<path d="M153 81.9 H225 V90.6 Q225 92.1 223.5 92.1 H154.5 Q153 92.1 153 90.6 Z" fill="#c5101a"/>
<rect x="195.15" y="133.8" width="2.3" height="11" fill="#93a2b2"/>
<rect x="201.95" y="133.8" width="2.3" height="11" fill="#93a2b2"/>
<rect x="208.85" y="133.8" width="2.3" height="11" fill="#93a2b2"/>
<rect x="215.80" y="133.8" width="2.3" height="11" fill="#93a2b2"/>
<rect x="222.70" y="133.8" width="2.3" height="11" fill="#93a2b2"/>
<rect x="1015.6" y="79.6" width="89" height="74.6" rx="3.2" fill="#e9edf3" stroke="#93a1b3" stroke-width="1.4"/>
<rect x="1020.3" y="84.2" width="80" height="65.3" rx="1" fill="#f9fafc"/>
<rect x="1024.3" y="87.2" width="6.5" height="3.4" fill="#cbd1d8"/>
<rect x="1033.5" y="87.2" width="6.5" height="3.4" fill="#cbd1d8"/>
<rect x="1043.0" y="87.2" width="6.5" height="3.4" fill="#cbd1d8"/>
<rect x="1052.3" y="87.2" width="6.5" height="3.4" fill="#cbd1d8"/>
<rect x="1061.5" y="87.2" width="6.5" height="3.4" fill="#cbd1d8"/>
<rect x="1071.0" y="87.2" width="6.5" height="3.4" fill="#cbd1d8"/>
<rect x="1080.4" y="87.2" width="6.5" height="3.4" fill="#cbd1d8"/>
<rect x="1089.6" y="87.2" width="6.5" height="3.4" fill="#cbd1d8"/>
<rect x="1024.3" y="94" width="8.6" height="44" fill="url(#gSlot)"/>
<rect x="1037.0" y="94" width="8.6" height="44" fill="url(#gSlot)"/>
<rect x="1049.6" y="94" width="8.6" height="44" fill="url(#gSlot)"/>
<rect x="1062.1" y="94" width="8.6" height="44" fill="url(#gSlot)"/>
<rect x="1074.5" y="94" width="8.6" height="44" fill="url(#gSlot)"/>
<rect x="1086.8" y="94" width="8.6" height="44" fill="url(#gSlot)"/>
<rect x="1024.3" y="144" width="6.8" height="1.5" fill="#9ca7b2"/>
<rect x="1089.1" y="144" width="6.8" height="1.5" fill="#9ca7b2"/>
<path d="M395.45 83.10 V94.70 M392.85 92.10 L395.45 94.70 L398.05 92.10" fill="none" stroke="#7b7d82" stroke-width="0.85" stroke-linecap="butt" stroke-linejoin="miter"/>
<text x="400.6" y="91.9" font-size="13.23" fill="#7b7d82" font-weight="normal" textLength="112.2" lengthAdjust="spacingAndGlyphs">Empfangsrichtung:</text>
<text x="517.4" y="91.9" font-size="13.23" fill="#3c4048" font-weight="normal" textLength="71.7" lengthAdjust="spacingAndGlyphs">102,4 Mbit/s</text>
<text x="392.7" y="111.9" font-size="13.23" fill="#7b7d82" font-weight="normal" textLength="57.6" lengthAdjust="spacingAndGlyphs">20 Kanäle</text>
<path d="M701.45 83.10 V94.70 M698.85 85.70 L701.45 83.10 L704.05 85.70" fill="none" stroke="#7b7d82" stroke-width="0.85" stroke-linecap="butt" stroke-linejoin="miter"/>
<text x="706.1" y="91.9" font-size="13.23" fill="#7b7d82" font-weight="normal" textLength="90.6" lengthAdjust="spacingAndGlyphs">Senderichtung:</text>
<text x="800.9" y="91.9" font-size="13.23" fill="#3c4048" font-weight="normal" textLength="58.3" lengthAdjust="spacingAndGlyphs">5,1 Mbit/s</text>
<text x="808.0" y="111.9" font-size="13.23" fill="#7b7d82" font-weight="normal" textLength="51.2" lengthAdjust="spacingAndGlyphs">4 Kanäle</text>
<text x="140.8" y="178.7" font-size="11.34" fill="#7b7d82" font-weight="normal" textLength="36.6" lengthAdjust="spacingAndGlyphs">Modell:</text>
<text x="180.3" y="178.7" font-size="11.34" fill="#3c4048" font-weight="normal" textLength="49.6" lengthAdjust="spacingAndGlyphs">FRITZ!Box</text>
<text x="233.2" y="178.7" font-size="11.34" fill="#3c4048" font-weight="normal" textLength="22.5" lengthAdjust="spacingAndGlyphs">6660</text>
<text x="259.3" y="178.7" font-size="11.34" fill="#3c4048" font-weight="normal" textLength="27.7" lengthAdjust="spacingAndGlyphs">Cable</text>
<text x="141.0" y="198.8" font-size="11.34" fill="#7b7d82" font-weight="normal" textLength="40.7" lengthAdjust="spacingAndGlyphs">DOCSIS-</text>
<text x="182.7" y="198.8" font-size="11.34" fill="#7b7d82" font-weight="normal" textLength="46.3" lengthAdjust="spacingAndGlyphs">Software-</text>
<text x="229.7" y="198.8" font-size="11.34" fill="#7b7d82" font-weight="normal" textLength="40.5" lengthAdjust="spacingAndGlyphs">Version:</text>
<text x="273.4" y="198.8" font-size="11.34" fill="#3c4048" font-weight="normal" textLength="52.3" lengthAdjust="spacingAndGlyphs">7.2.4.5.310</text>
<text x="140.8" y="218.8" font-size="11.34" fill="#7b7d82" font-weight="normal" textLength="14.3" lengthAdjust="spacingAndGlyphs">CM</text>
<text x="159.2" y="218.8" font-size="11.34" fill="#7b7d82" font-weight="normal" textLength="66.2" lengthAdjust="spacingAndGlyphs">MAC-Adresse:</text>
<path d="M226.2 214.6 C229 212.3 236 210.4 246 209.7 C262 208.7 285 208.8 300 209.9 C308 210.5 313 211.3 315.2 211.4 L315.8 210.8 L316.6 211.7 C320 212.4 324.5 213.8 327.2 215.7 C324 218 318 219.8 310 220.7 C300 221.8 285 222.1 272 221.4 C258 220.6 243 219.6 234 218.4 C230 217.8 227 216.4 226.2 214.6 Z" fill="#050505"/>
<g fill="none" stroke="#ffffff" stroke-linecap="butt">
<path d="M257 211.25 L277.5 210.95" stroke-width="0.7" stroke-opacity="0.75"/>
<path d="M279 213.25 L300 212.95" stroke-width="0.7" stroke-opacity="0.6"/>
<path d="M260 215.5 L285.5 216.1" stroke-width="0.8" stroke-opacity="0.8"/>
<path d="M283 219.0 L291 219.0" stroke-width="0.7" stroke-opacity="0.8"/>
<path d="M232 212.2 L252 210.9" stroke-width="0.5" stroke-opacity="0.35"/>
</g>
<path d="M289.5 217.1 L303 217.5 L316 216.6 L314.5 218.3 L303 218.4 Z" fill="#ffffff" fill-opacity="0.85"/>
<path d="M230.6 214.7 L236.4 213.6 L236.6 216.0 Z" fill="#ffffff" fill-opacity="0.85"/>
<path d="M318.3 215.2 L322.6 214.9 L319.2 218.3 Z" fill="#ffffff" fill-opacity="0.85"/>
<path d="M306 216.0 L312.5 214.9 L311 216.6 Z" fill="#ffffff" fill-opacity="0.7"/>
<text x="575.0" y="178.7" font-size="11.34" fill="#7b7d82" font-weight="normal" textLength="75.2" lengthAdjust="spacingAndGlyphs">Kabel-Internet:</text>
<text x="653.0" y="178.7" font-size="11.34" fill="#3c4048" font-weight="normal" textLength="23.9" lengthAdjust="spacingAndGlyphs">aktiv</text>
<text x="486.0" y="198.8" font-size="11.34" fill="#7b7d82" font-weight="normal" textLength="94.8" lengthAdjust="spacingAndGlyphs">Verbindungsdauer:</text>
<text x="584.0" y="198.8" font-size="11.34" fill="#3c4048" font-weight="normal" textLength="11.3" lengthAdjust="spacingAndGlyphs">37</text>
<text x="598.9" y="198.8" font-size="11.34" fill="#3c4048" font-weight="normal" textLength="40.8" lengthAdjust="spacingAndGlyphs">Stunden</text>
<text x="643.4" y="198.8" font-size="11.34" fill="#3c4048" font-weight="normal" textLength="11.1" lengthAdjust="spacingAndGlyphs">51</text>
<text x="658.3" y="198.8" font-size="11.34" fill="#3c4048" font-weight="normal" textLength="39.5" lengthAdjust="spacingAndGlyphs">Minuten</text>
<text x="702.1" y="198.8" font-size="11.34" fill="#3c4048" font-weight="normal" textLength="10.2" lengthAdjust="spacingAndGlyphs">10</text>
<text x="716.0" y="198.8" font-size="11.34" fill="#3c4048" font-weight="normal" textLength="49.1" lengthAdjust="spacingAndGlyphs">Sekunden</text>
<text x="556.4" y="218.8" font-size="11.34" fill="#7b7d82" font-weight="normal" textLength="81.2" lengthAdjust="spacingAndGlyphs">Verbindungstyp:</text>
<text x="640.6" y="218.8" font-size="11.34" fill="#3c4048" font-weight="normal" textLength="54.4" lengthAdjust="spacingAndGlyphs">DOCSIS 3.0</text>
<text x="1015.6" y="178.7" font-size="11.34" fill="#7b7d82" font-weight="normal" textLength="82.6" lengthAdjust="spacingAndGlyphs">CMTS-Hersteller:</text>
<text x="1101.2" y="178.7" font-size="11.34" fill="#3c4048" font-weight="normal" textLength="25.8" lengthAdjust="spacingAndGlyphs">Cisco</text>
<rect x="9" y="265" width="1383" height="1" fill="#d0d0d0"/>
<text x="9.7" y="307.7" font-size="15.12" fill="#3a3d46" font-weight="bold" textLength="50.1" lengthAdjust="spacingAndGlyphs">DOCSIS</text>
<text x="64.8" y="307.7" font-size="15.12" fill="#3a3d46" font-weight="bold" textLength="97.2" lengthAdjust="spacingAndGlyphs">Frequenzband</text>
<text x="9.3" y="357.9" font-size="15.12" fill="#4b4e57" font-weight="normal" textLength="98.4" lengthAdjust="spacingAndGlyphs">Senderichtung</text>
<path d="M111.60 347.70 V360.80 M108.90 350.80 L111.60 347.70 L114.30 350.80" fill="none" stroke="#4b4e57" stroke-width="0.9" stroke-linecap="butt" stroke-linejoin="miter"/>
<text x="258.6" y="357.9" font-size="15.12" fill="#4b4e57" font-weight="normal" textLength="122.1" lengthAdjust="spacingAndGlyphs">Empfangsrichtung</text>
<path d="M384.90 348.00 V360.80 M382.20 357.80 L384.90 360.80 L387.60 357.80" fill="none" stroke="#4b4e57" stroke-width="0.9" stroke-linecap="butt" stroke-linejoin="miter"/>
<rect x="9.5" y="374.5" width="193.5" height="50" fill="#ffffff" stroke="#d0d0d0" stroke-width="1"/>
<rect x="258.5" y="374.5" width="1133" height="50" fill="#ffffff" stroke="#d0d0d0" stroke-width="1"/>
<rect x="203.5" y="375" width="54.5" height="49.6" fill="url(#hatch)"/>
<rect x="203" y="374" width="56" height="1" fill="#d0d0d0"/>
<rect x="92" y="379" width="5" height="41.6" rx="0.7" fill="#96c6ee"/>
<rect x="108" y="379" width="5" height="41.6" rx="0.7" fill="#96c6ee"/>
<rect x="125" y="379" width="4" height="41.6" rx="0.7" fill="#96c6ee"/>
<rect x="141" y="379" width="5" height="41.6" rx="0.7" fill="#96c6ee"/>
<rect x="778" y="379" width="4" height="41.6" rx="0.7" fill="#96c6ee"/>
<rect x="786" y="379" width="4" height="41.6" rx="0.7" fill="#96c6ee"/>
<rect x="794" y="379" width="4" height="41.6" rx="0.7" fill="#96c6ee"/>
<rect x="803" y="379" width="4" height="41.6" rx="0.7" fill="#96c6ee"/>
<rect x="811" y="379" width="4" height="41.6" rx="0.7" fill="#96c6ee"/>
<rect x="819" y="379" width="4" height="41.6" rx="0.7" fill="#96c6ee"/>
<rect x="827" y="379" width="4" height="41.6" rx="0.7" fill="#96c6ee"/>
<rect x="835" y="379" width="4" height="41.6" rx="0.7" fill="#96c6ee"/>
<rect x="843" y="379" width="4" height="41.6" rx="0.7" fill="#96c6ee"/>
<rect x="851" y="379" width="4" height="41.6" rx="0.7" fill="#96c6ee"/>
<rect x="860" y="379" width="4" height="41.6" rx="0.7" fill="#96c6ee"/>
<rect x="868" y="379" width="4" height="41.6" rx="0.7" fill="#96c6ee"/>
<rect x="876" y="379" width="4" height="41.6" rx="0.7" fill="#96c6ee"/>
<rect x="884" y="379" width="4" height="41.6" rx="0.7" fill="#96c6ee"/>
<rect x="892" y="379" width="4" height="41.6" rx="0.7" fill="#96c6ee"/>
<rect x="900" y="379" width="4" height="41.6" rx="0.7" fill="#96c6ee"/>
<rect x="908" y="379" width="4" height="41.6" rx="0.7" fill="#96c6ee"/>
<rect x="917" y="379" width="4" height="41.6" rx="0.7" fill="#96c6ee"/>
<rect x="925" y="379" width="4" height="41.6" rx="0.7" fill="#96c6ee"/>
<rect x="933" y="379" width="4" height="41.6" rx="0.7" fill="#96c6ee"/>
<text x="9.4" y="439.6" font-size="11.34" fill="#3c4048" font-weight="normal" textLength="5.8" lengthAdjust="spacingAndGlyphs">5</text>
<text x="21.6" y="439.6" font-size="11.34" fill="#7b7d82" font-weight="normal" textLength="11.6" lengthAdjust="spacingAndGlyphs">10</text>
<text x="44.3" y="439.6" font-size="11.34" fill="#7b7d82" font-weight="normal" textLength="11.8" lengthAdjust="spacingAndGlyphs">20</text>
<text x="67.6" y="439.6" font-size="11.34" fill="#7b7d82" font-weight="normal" textLength="12.3" lengthAdjust="spacingAndGlyphs">30</text>
<text x="91.1" y="439.6" font-size="11.34" fill="#7b7d82" font-weight="normal" textLength="12.2" lengthAdjust="spacingAndGlyphs">40</text>
<text x="114.8" y="439.6" font-size="11.34" fill="#7b7d82" font-weight="normal" textLength="11.7" lengthAdjust="spacingAndGlyphs">50</text>
<text x="138.1" y="439.6" font-size="11.34" fill="#7b7d82" font-weight="normal" textLength="12.2" lengthAdjust="spacingAndGlyphs">60</text>
<text x="162.0" y="439.6" font-size="11.34" fill="#7b7d82" font-weight="normal" textLength="11.8" lengthAdjust="spacingAndGlyphs">70</text>
<text x="190.3" y="439.6" font-size="11.34" fill="#3c4048" font-weight="normal" textLength="12.0" lengthAdjust="spacingAndGlyphs">85</text>
<text x="258.6" y="439.6" font-size="11.34" fill="#3c4048" font-weight="normal" textLength="18.8" lengthAdjust="spacingAndGlyphs">108</text>
<text x="351.8" y="439.6" font-size="11.34" fill="#7b7d82" font-weight="normal" textLength="18.8" lengthAdjust="spacingAndGlyphs">200</text>
<text x="453.6" y="439.6" font-size="11.34" fill="#7b7d82" font-weight="normal" textLength="18.8" lengthAdjust="spacingAndGlyphs">300</text>
<text x="555.3" y="439.6" font-size="11.34" fill="#7b7d82" font-weight="normal" textLength="18.8" lengthAdjust="spacingAndGlyphs">400</text>
<text x="657.1" y="439.6" font-size="11.34" fill="#7b7d82" font-weight="normal" textLength="18.8" lengthAdjust="spacingAndGlyphs">500</text>
<text x="758.9" y="439.6" font-size="11.34" fill="#7b7d82" font-weight="normal" textLength="18.8" lengthAdjust="spacingAndGlyphs">600</text>
<text x="861.0" y="439.6" font-size="11.34" fill="#7b7d82" font-weight="normal" textLength="18.8" lengthAdjust="spacingAndGlyphs">700</text>
<text x="962.7" y="439.6" font-size="11.34" fill="#7b7d82" font-weight="normal" textLength="18.8" lengthAdjust="spacingAndGlyphs">800</text>
<text x="1064.5" y="439.6" font-size="11.34" fill="#7b7d82" font-weight="normal" textLength="18.8" lengthAdjust="spacingAndGlyphs">900</text>
<text x="1166.3" y="439.6" font-size="11.34" fill="#7b7d82" font-weight="normal" textLength="25.1" lengthAdjust="spacingAndGlyphs">1000</text>
<text x="1268.1" y="439.6" font-size="11.34" fill="#7b7d82" font-weight="normal" textLength="25.4" lengthAdjust="spacingAndGlyphs">1100</text>
<text x="1341.3" y="439.6" font-size="11.34" fill="#3c4048" font-weight="normal" textLength="50.9" lengthAdjust="spacingAndGlyphs">1218 MHz</text>
<rect x="9.5" y="457.5" width="23" height="23" fill="#96c6ee" stroke="#4a88c0" stroke-width="1"/>
<text x="40.7" y="474.8" font-size="15.12" fill="#4b4e57" font-weight="normal" textLength="83.7" lengthAdjust="spacingAndGlyphs">Verwendeter</text>
<text x="129.5" y="474.8" font-size="15.12" fill="#4b4e57" font-weight="normal" textLength="49.1" lengthAdjust="spacingAndGlyphs">DOCSIS</text>
<text x="183.2" y="474.8" font-size="15.12" fill="#4b4e57" font-weight="normal" textLength="62.0" lengthAdjust="spacingAndGlyphs">3.0-Kanal</text>
</svg>
</body>
</html>
